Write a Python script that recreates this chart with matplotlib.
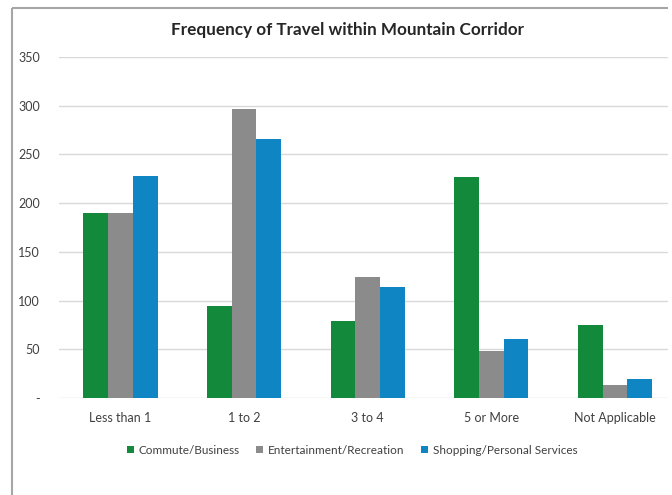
import matplotlib.pyplot as plt
import numpy as np
from matplotlib.lines import Line2D

categories = ['Less than 1', '1 to 2', '3 to 4', '5 or More', 'Not Applicable']
commute = [190, 94, 79, 227, 75]
entertainment = [190, 297, 124, 48, 13]
shopping = [228, 266, 114, 61, 19]
series_names = ['Commute/Business', 'Entertainment/Recreation', 'Shopping/Personal Services']
yticks = [0, 50, 100, 150, 200, 250, 300, 350]
ytick_labels = ['-', '50', '100', '150', '200', '250', '300', '350']

colors = ['#138a3b', '#8b8b8b', '#0f86c3']
plt.rcParams['font.family'] = ['Lato', 'DejaVu Sans']

fig = plt.figure(figsize=(6.72, 4.95), dpi=100)
# chart border: only the left and top edges are inside the picture
bx, by = 12 / 672, 1 - 8 / 495
fig.add_artist(Line2D([bx, bx], [0, by], transform=fig.transFigure,
                      color='#a6a6a6', linewidth=1.5, solid_capstyle='butt'))
fig.add_artist(Line2D([bx, 668 / 672], [by, by], transform=fig.transFigure,
                      color='#a6a6a6', linewidth=1.5, solid_capstyle='butt'))

# plot area runs past the right edge of the picture; cut it short
left_px, right_px, step_px = 58.7, 668, 123.6
ax = fig.add_axes([left_px / 672, 0.196, (right_px - left_px) / 672, 0.689])
x = np.arange(len(categories))
w = 0.2
for i, (vals, name) in enumerate(zip([commute, entertainment, shopping], series_names)):
    ax.bar(x + (i - 1) * w, vals, w, color=colors[i], label=name, zorder=3)

ax.set_xlim(-0.5, -0.5 + (right_px - left_px) / step_px)
ax.set_ylim(0, 350)
ax.set_yticks(yticks)
ax.set_yticklabels(ytick_labels)
ax.set_xticks(x)
ax.set_xticklabels(categories)
ax.grid(axis='y', color='#d9d9d9', linewidth=1, zorder=0)
ax.set_facecolor('none')
for s in ax.spines.values():
    s.set_visible(False)
ax.tick_params(axis='both', length=0, labelsize=9, colors='#404040')
ax.tick_params(axis='y', pad=13.5)
ax.tick_params(axis='x', pad=10)

fig.text(347 / 672, 1 - 30 / 495, 'Frequency of Travel within Mountain Corridor',
         ha='center', va='center', fontsize=12.3, fontweight='bold', color='#262626')

fig.legend(loc='center', bbox_to_anchor=(352 / 672, 1 - 450 / 495), ncol=3,
           frameon=False, fontsize=8.5, handlelength=0.6, handleheight=0.6,
           handletextpad=0.4, columnspacing=1.4, labelcolor='#404040')

fig.savefig('out.png', dpi=100)
